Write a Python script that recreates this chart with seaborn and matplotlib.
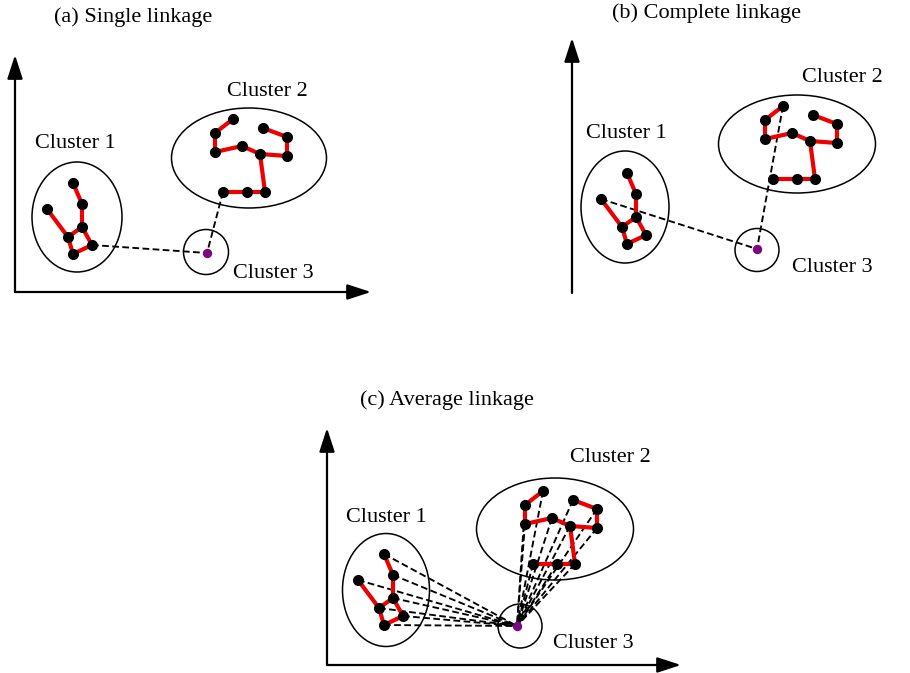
import numpy as np
import pandas as pd
import matplotlib
matplotlib.use("Agg")
import matplotlib.pyplot as plt
from matplotlib.patches import Ellipse
import seaborn as sns

# ---------------- data ----------------
# shape of cluster 1 (offsets from its first point, y pointing down)
cluster1_names = ["A", "B", "C", "D", "E", "F", "G"]
cluster1_dx = [0, 9, -26, 9, -5, 19, 0]
cluster1_dy = [0, 21, 26, 44, 54, 62, 71]
cluster1_edges = [("A", "B"), ("B", "D"), ("C", "E"), ("D", "E"), ("D", "F"), ("E", "G"), ("G", "F")]

# shape of cluster 2 (offsets from its first point, y pointing down)
cluster2_names = ["P1", "P2", "P3", "P4", "P5", "P6", "P7", "P8", "P9", "P10", "P11"]
cluster2_dx = [0, -18, -18, 9, 27, 30, 54, 54, 32, 14, -10]
cluster2_dy = [0, 14, 33, 27, 35, 9, 18, 37, 73, 73, 73]
cluster2_edges = [("P1", "P2"), ("P2", "P3"), ("P3", "P4"), ("P4", "P5"), ("P5", "P8"),
                  ("P8", "P7"), ("P7", "P6"), ("P5", "P9"), ("P9", "P10"), ("P10", "P11")]

panel_titles = ["(a) Single linkage", "(b) Complete linkage", "(c) Average linkage"]
cluster_labels = ["Cluster 1", "Cluster 2", "Cluster 3"]

# linkage lines drawn to cluster 3 in each panel
panel_links = [
    ["F", "P11"],                       # single: closest points
    ["C", "P1"],                        # complete: farthest points
    cluster1_names + cluster2_names,    # average: all points
]

# ---------------- layout (pixel positions, y down) ----------------
panels = [
    dict(c1=(73, 183), c2=(233, 119), c3=(207, 253),
         origin=(15, 292), ytop=55, xend=371,
         e1=((77, 217), 90, 110), e2=((249, 158), 155, 100), e3=((206, 252), 45, 45),
         l1=(75, 144), l2=(267, 92), l3=(273, 273), title=(133, 17)),
    dict(c1=(627, 173), c2=(783, 106), c3=(757, 249),
         origin=(572, 293), ytop=38, xend=911,
         e1=((625, 207), 88, 112), e2=((797, 144), 157, 98), e3=((757, 250), 44, 43),
         l1=(626, 133), l2=(842, 77), l3=(832, 268), title=(707, 13)),
    dict(c1=(384, 554), c2=(543, 491), c3=(517, 626),
         origin=(327, 665), ytop=428, xend=681,
         e1=((386, 590), 87, 113), e2=((555, 529), 157, 102), e3=((520, 626), 44, 44),
         l1=(386, 517), l2=(610, 458), l3=(593, 643), title=(447, 400)),
]

W, H = 910, 673
sns.set_theme(style="white")
plt.rcParams["font.family"] = ["Liberation Serif", "DejaVu Serif"]

fig = plt.figure(figsize=(W / 100, H / 100), dpi=100)
ax = fig.add_axes([0, 0, 1, 1])
ax.set_xlim(0, W)
ax.set_ylim(H, 0)
ax.axis("off")

FS = 16

for i, p in enumerate(panels):
    # point coordinates
    pts = {}
    for n, dx, dy in zip(cluster1_names, cluster1_dx, cluster1_dy):
        pts[n] = (p["c1"][0] + dx, p["c1"][1] + dy)
    for n, dx, dy in zip(cluster2_names, cluster2_dx, cluster2_dy):
        pts[n] = (p["c2"][0] + dx, p["c2"][1] + dy)
    c3 = p["c3"]

    # coordinate axes arrows
    ox, oy = p["origin"]
    for tip in [(ox, p["ytop"]), (p["xend"], oy)]:
        ax.annotate("", xy=tip, xytext=(ox, oy),
                    arrowprops=dict(arrowstyle="-|>,head_length=1.45,head_width=0.47",
                                    mutation_scale=10, lw=1.6, color="black",
                                    shrinkA=0, shrinkB=0), zorder=2)

    # cluster outlines
    for key in ["e1", "e2", "e3"]:
        (cx, cy), w, h = p[key]
        ax.add_patch(Ellipse((cx, cy), w, h, fill=False, lw=1.1, ec="black", zorder=1))

    # dashed linkage lines
    rows = []
    for k, n in enumerate(panel_links[i]):
        rows.append(dict(x=pts[n][0], y=pts[n][1], u=k))
        rows.append(dict(x=c3[0], y=c3[1], u=k))
    dash_df = pd.DataFrame(rows)
    sns.lineplot(data=dash_df, x="x", y="y", units="u", estimator=None, sort=False,
                 color="black", lw=1.35, linestyle=(0, (3.6, 1.8)), ax=ax, legend=False, zorder=3)

    # red edges
    rows = []
    for k, (a, b) in enumerate(cluster1_edges + cluster2_edges):
        rows.append(dict(x=pts[a][0], y=pts[a][1], u=k))
        rows.append(dict(x=pts[b][0], y=pts[b][1], u=k))
    edge_df = pd.DataFrame(rows)
    sns.lineplot(data=edge_df, x="x", y="y", units="u", estimator=None, sort=False,
                 color="#ee0000", lw=3.0, ax=ax, legend=False, zorder=4)

    # points
    pt_df = pd.DataFrame([dict(x=v[0], y=v[1]) for v in pts.values()])
    sns.scatterplot(data=pt_df, x="x", y="y", color="black", s=64, linewidth=0,
                    ax=ax, legend=False, zorder=5)
    sns.scatterplot(x=[c3[0]], y=[c3[1]], color="#7a0a80", s=46, linewidth=0,
                    ax=ax, legend=False, zorder=5)

    # labels
    for key, lab in zip(["l1", "l2", "l3"], cluster_labels):
        ax.text(p[key][0], p[key][1], lab, ha="center", va="center", fontsize=FS, color="black")
    ax.text(p["title"][0], p["title"][1], panel_titles[i], ha="center", va="center",
            fontsize=FS, color="black")

ax.set_xlim(0, W)
ax.set_ylim(H, 0)
ax.set_xlabel("")
ax.set_ylabel("")
fig.savefig("out.png", dpi=100, facecolor="white")
